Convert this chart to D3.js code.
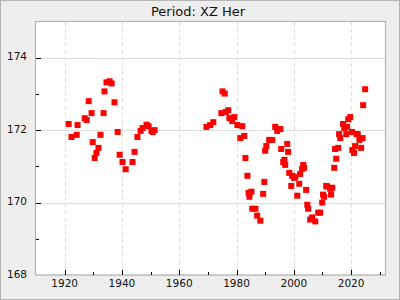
<!DOCTYPE html>
<html>
<head>
<meta charset="utf-8">
<script src="https://cdn.jsdelivr.net/npm/d3@7"></script>
<style>
  body { margin: 0; background: #eeeeee; }
  svg { display: block; font-family: "DejaVu Sans", sans-serif; }
</style>
</head>
<body>
<svg width="400" height="300"></svg>
<script>
const years = [
  1921.4, 1922.4, 1924.2, 1924.5, 1927.0, 1927.7, 1928.4, 1929.4, 1929.8, 1930.5,
  1931.1, 1931.8, 1932.5, 1933.6, 1933.9, 1934.6, 1935.7, 1936.4, 1937.4, 1938.5,
  1939.2, 1940.2, 1941.3, 1943.7, 1944.4, 1945.4, 1946.5, 1947.2, 1948.6, 1949.3,
  1950.3, 1950.7, 1951.4,
  1969.5, 1970.8, 1971.9, 1974.7, 1975.1, 1975.9, 1976.3, 1977.1, 1977.5, 1978.5,
  1979.2, 1980.3, 1981.3, 1982.0, 1982.7, 1983.1, 1983.8, 1984.2, 1984.5, 1985.2,
  1985.5, 1986.6, 1987.2, 1988.3, 1989.3, 1989.7, 1990.0, 1990.4, 1991.4, 1992.5,
  1993.5, 1994.2, 1995.3, 1995.6, 1996.3, 1996.7, 1997.0, 1997.7, 1998.0, 1998.4,
  1999.1, 1999.4, 2000.1, 2000.5, 2001.2, 2001.9, 2002.2, 2002.9, 2003.3, 2003.6,
  2004.3, 2004.7, 2005.0, 2005.7, 2006.4, 2007.5, 2008.5, 2009.2, 2009.9, 2010.2,
  2010.6, 2011.3, 2011.6, 2012.7, 2013.0, 2013.4, 2014.1, 2014.4, 2014.8, 2015.5,
  2015.8, 2016.2, 2017.2, 2017.6, 2018.3, 2018.6, 2019.0, 2019.7, 2020.3, 2020.4,
  2021.0, 2021.4, 2021.9, 2022.3, 2022.9, 2023.5, 2024.0, 2024.2, 2024.9
];
const values = [
  172.17, 171.81, 171.87, 172.14, 172.33, 172.28, 172.80, 172.47, 171.67, 171.23,
  171.37, 171.51, 171.87, 172.47, 173.07, 173.32, 173.35, 173.29, 172.77, 171.95,
  171.32, 171.12, 170.92, 171.12, 171.40, 171.81, 171.98, 172.06, 172.15, 172.11,
  171.98, 171.95, 172.00,
  172.09, 172.14, 172.22, 172.47, 173.07, 173.01, 172.50, 172.55, 172.33, 172.25,
  172.36, 172.14, 171.78, 172.11, 171.84, 171.23, 170.74, 170.27, 170.16, 170.30,
  169.83, 169.83, 169.64, 169.50, 170.24, 170.57, 171.43, 171.56, 171.73, 171.73,
  172.09, 171.98, 172.03, 171.48, 171.12, 171.18, 171.04, 171.62, 171.40, 170.82,
  170.46, 170.74, 170.68, 170.71, 170.19, 170.52, 170.79, 170.93, 171.04, 170.96,
  170.35, 169.94, 169.83, 169.53, 169.59, 169.48, 169.72, 169.72, 170.00, 170.22,
  170.16, 170.46, 170.44, 170.38, 170.22, 170.41, 170.96, 171.48, 171.21, 171.51,
  171.89, 171.78, 172.17, 172.06, 171.89, 172.09, 172.30, 172.36, 171.95, 171.45,
  171.37, 171.56, 171.89, 171.89, 171.73, 171.51, 171.78, 172.69, 173.13
];
const xMajor = [1920, 1940, 1960, 1980, 2000, 2020];
const xMinor = [1910, 1930, 1950, 1970, 1990, 2010, 2030];
const yMajor = [168, 170, 172, 174];
const yMinor = [169, 171, 173];
const title = "Period: XZ Her";

const W = 400, H = 300;
const plotL = 36, plotT = 21.5, plotR = 385.5, plotB = 275;

const svg = d3.select("svg");

// outer frame
svg.append("rect")
  .attr("x", 0.5).attr("y", 0.5)
  .attr("width", W - 1).attr("height", H - 1)
  .attr("fill", "#eeeeee")
  .attr("stroke", "#b4b4b4");

const x = d3.scaleLinear().domain([1910, 2032]).range([plotL, plotR]);
const y = d3.scaleLinear().domain([168, 175]).range([plotB, plotT]);

// plot area
svg.append("rect")
  .attr("x", plotL).attr("y", plotT)
  .attr("width", plotR - plotL).attr("height", plotB - plotT)
  .attr("fill", "white");

// grid
svg.append("g").selectAll("line")
  .data(xMajor)
  .join("line")
    .attr("x1", d => Math.round(x(d)) + 0.5)
    .attr("x2", d => Math.round(x(d)) + 0.5)
    .attr("y1", plotT).attr("y2", plotB)
    .attr("stroke", "#dcdcdc")
    .attr("stroke-dasharray", "4,3");

svg.append("g").selectAll("line")
  .data(yMajor)
  .join("line")
    .attr("x1", plotL).attr("x2", plotR)
    .attr("y1", d => Math.round(y(d)) + 0.5)
    .attr("y2", d => Math.round(y(d)) + 0.5)
    .attr("stroke", "#dcdcdc");

// points
const pts = years.map((d, i) => ({ year: d, v: values[i] }));
svg.append("g").selectAll("rect")
  .data(pts)
  .join("rect")
    .attr("x", d => x(d.year) - 3)
    .attr("y", d => y(d.v) - 3)
    .attr("width", 6).attr("height", 6)
    .attr("fill", "#ff0000");

// plot border
svg.append("rect")
  .attr("x", plotL - 0.5).attr("y", plotT)
  .attr("width", plotR - plotL + 0.5).attr("height", plotB - plotT)
  .attr("fill", "none")
  .attr("stroke", "#b4b4b4")
  .attr("stroke-width", 1.2);

// ticks (drawn inside the plot)
const ticks = svg.append("g").attr("stroke", "black");
ticks.selectAll(".xmaj").data(xMajor).join("line")
  .attr("x1", d => Math.round(x(d)) + 0.5).attr("x2", d => Math.round(x(d)) + 0.5)
  .attr("y1", plotB).attr("y2", plotB - 5);
ticks.selectAll(".xmin").data(xMinor.filter(d => x(d) > plotL + 2)).join("line")
  .attr("x1", d => Math.round(x(d)) + 0.5).attr("x2", d => Math.round(x(d)) + 0.5)
  .attr("y1", plotB).attr("y2", plotB - 3);
ticks.selectAll(".ymaj").data(yMajor.filter(d => d > 168)).join("line")
  .attr("x1", plotL).attr("x2", plotL + 5)
  .attr("y1", d => Math.round(y(d)) + 0.5).attr("y2", d => Math.round(y(d)) + 0.5);
ticks.selectAll(".ymin").data(yMinor).join("line")
  .attr("x1", plotL).attr("x2", plotL + 3)
  .attr("y1", d => Math.round(y(d)) + 0.5).attr("y2", d => Math.round(y(d)) + 0.5);

// tick labels
svg.append("g").selectAll("text")
  .data(xMajor)
  .join("text")
    .attr("x", d => x(d))
    .attr("y", plotB + 12)
    .attr("text-anchor", "middle")
    .attr("font-size", "10.5px")
    .attr("fill", "#111")
    .text(d => d);

svg.append("g").selectAll("text")
  .data(yMajor)
  .join("text")
    .attr("x", 27)
    .attr("y", d => y(d) - 1)
    .attr("dy", "0.35em")
    .attr("text-anchor", "end")
    .attr("font-size", "10.5px")
    .attr("fill", "#111")
    .text(d => d);

// title
svg.append("text")
  .attr("x", 198)
  .attr("y", 16)
  .attr("text-anchor", "middle")
  .attr("font-size", "13px")
  .attr("fill", "#111")
  .text(title);
</script>
</body>
</html>
